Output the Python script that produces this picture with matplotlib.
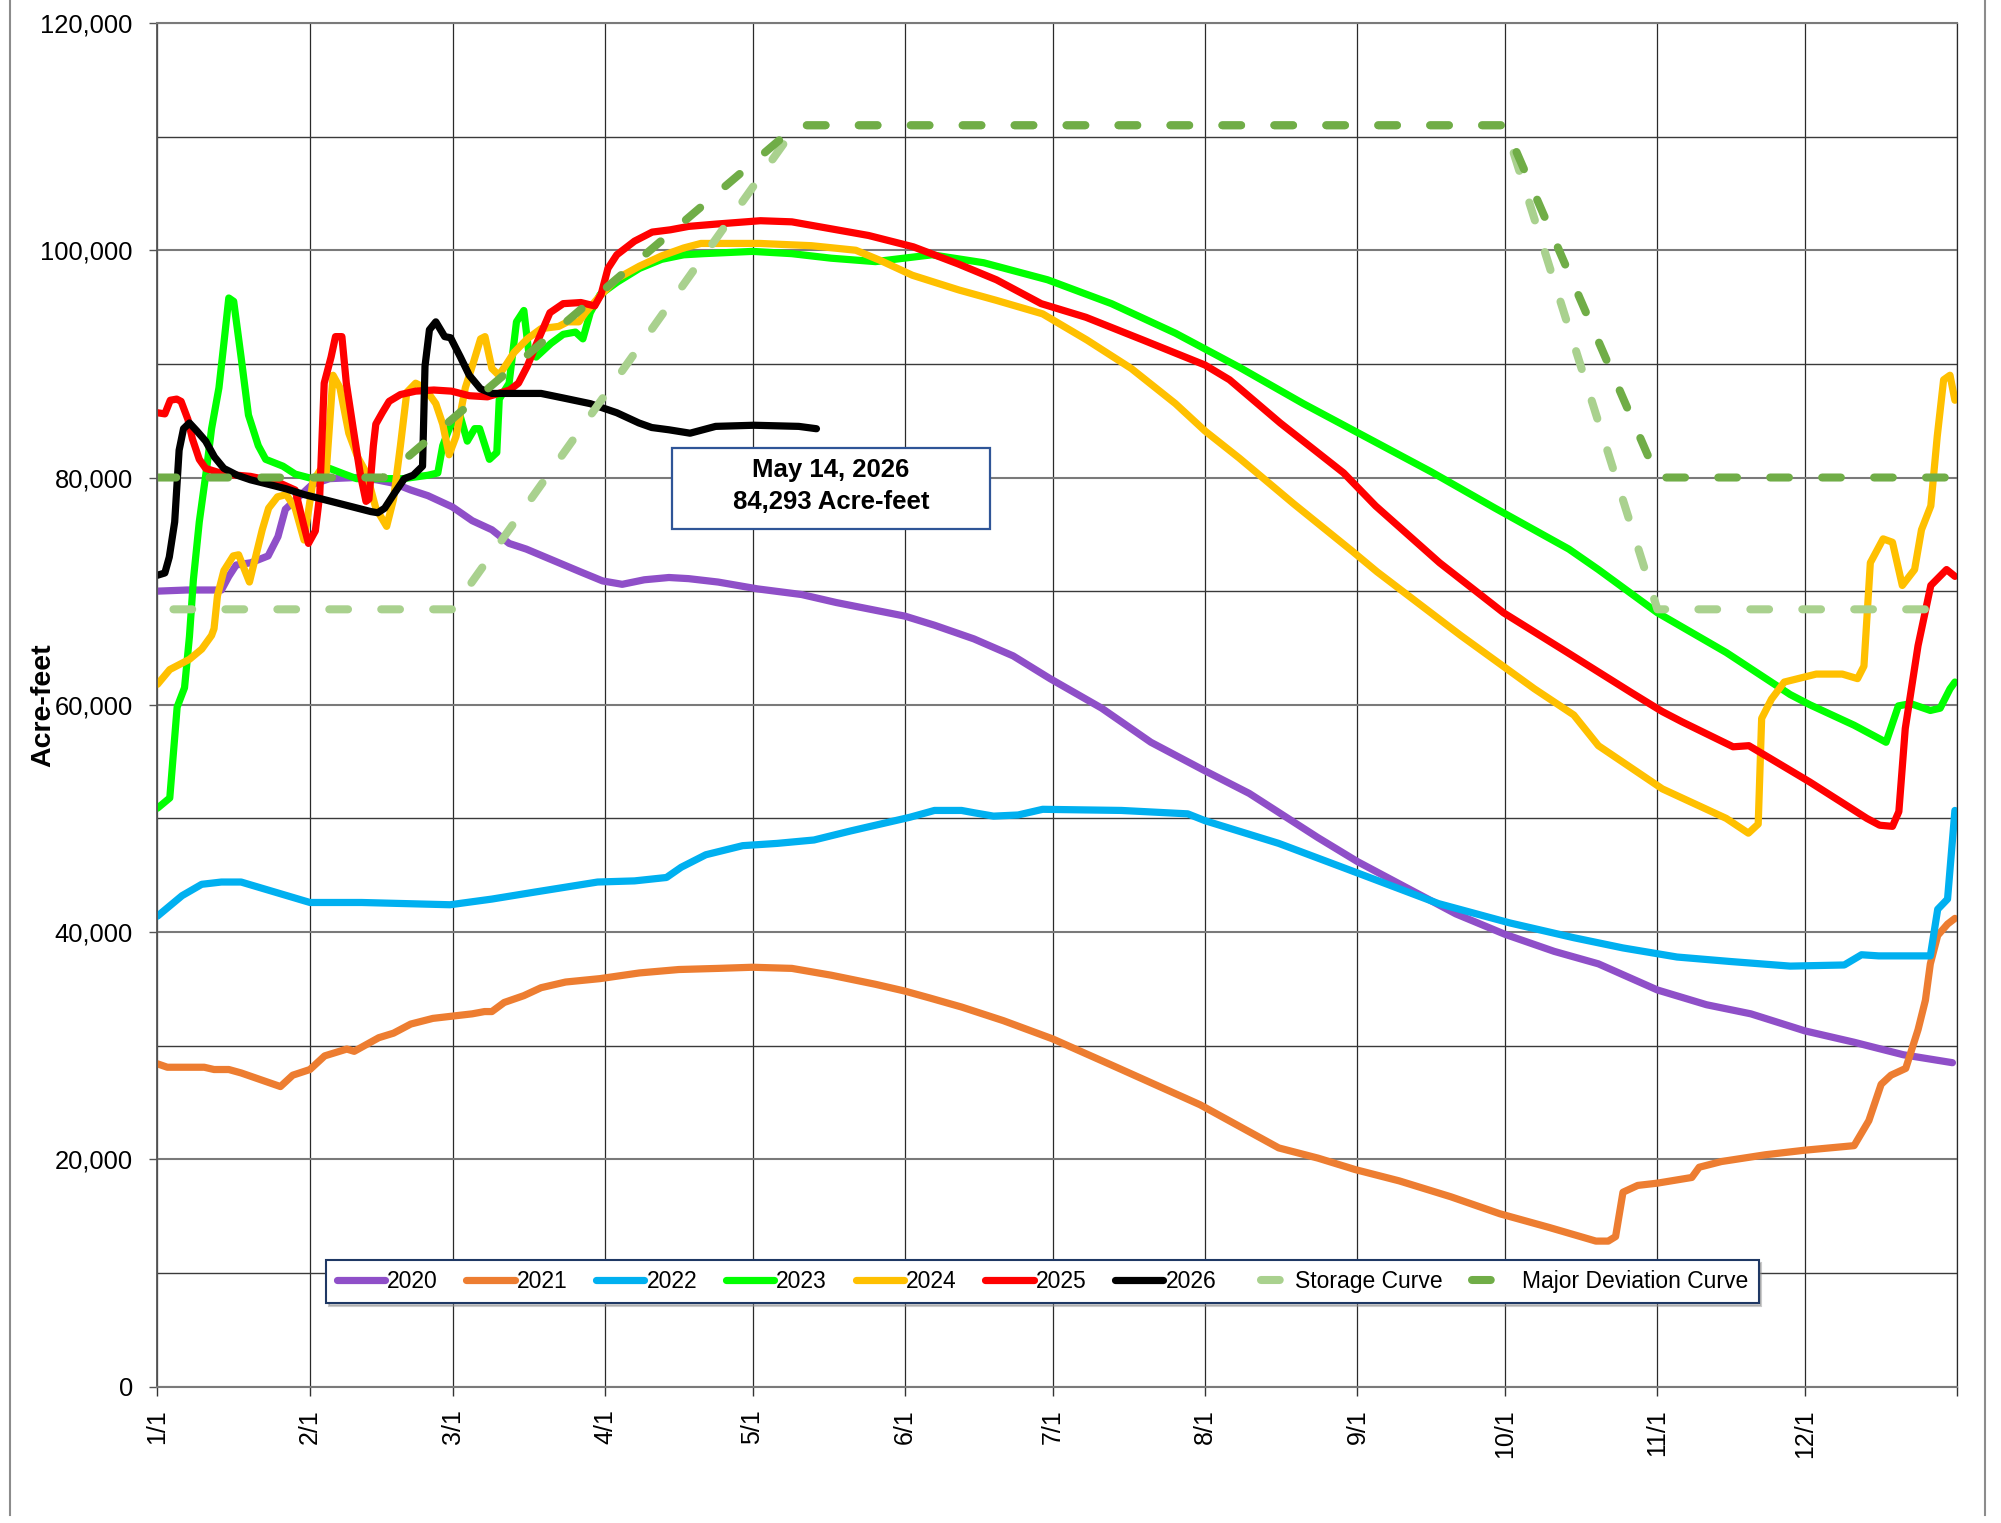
import matplotlib
matplotlib.use("Agg")
import matplotlib.pyplot as plt
from matplotlib.lines import Line2D
from matplotlib.patches import Rectangle
from matplotlib.ticker import MultipleLocator, FuncFormatter

plt.rcParams['font.family'] = ['Liberation Sans', 'DejaVu Sans']
plt.rcParams['lines.scale_dashes'] = False

# day of year (leap year axis, 1/1 = 0) and storage in acre-feet
days_2020 = [0, 6, 13, 14.5, 16, 19, 22.5, 24.5, 26, 29, 31.5, 35, 40.5, 44.5, 48, 51.5, 55, 60, 64, 68,
             71.5, 75, 80.5, 86, 90.5, 94.5, 99, 104, 108, 114, 122, 131, 138, 145, 152, 158, 166, 174,
             181.5, 192, 202, 212.5, 222, 236, 244, 254, 264, 274, 284, 293, 305, 315, 324, 335, 345, 355, 365]
vals_2020 = [70000, 70100, 70100, 71300, 72300, 72500, 73100, 74800, 77200, 78400, 79400, 79900, 80000, 79800,
             79500, 78900, 78400, 77400, 76200, 75400, 74200, 73700, 72700, 71700, 70900, 70600, 71000, 71200,
             71100, 70800, 70200, 69700, 69000, 68400, 67800, 67000, 65800, 64300, 62300, 59700, 56700, 54300,
             52200, 48300, 46200, 43900, 41600, 39800, 38300, 37200, 34900, 33600, 32800, 31300, 30300, 29200,
             28500]

days_2021 = [0, 2, 9.5, 11.5, 14.5, 17, 21, 25, 27.5, 31, 34, 38.5, 40, 45, 48, 51.5, 56, 60, 64, 66.5,
             68, 70.5, 74.5, 78, 83, 90, 98, 106, 114, 121, 129, 137, 146, 152, 157, 163.5, 172, 182, 195,
             212, 228, 236, 243.5, 252.5, 263, 273, 283, 292.5, 295, 296.5, 298, 301, 305, 312, 313.5, 318,
             327, 335, 345, 348, 350.5, 352.5, 355.5, 358, 359.5, 360.5, 362, 364, 365.5]
vals_2021 = [28400, 28100, 28100, 27900, 27900, 27600, 27000, 26400, 27400, 27900, 29100, 29700, 29500, 30700,
             31100, 31900, 32400, 32600, 32800, 33000, 33000, 33800, 34400, 35100, 35600, 35900, 36400, 36700,
             36800, 36900, 36800, 36200, 35400, 34800, 34200, 33400, 32200, 30600, 28100, 24800, 21000, 20100,
             19100, 18100, 16700, 15200, 14000, 12800, 12800, 13200, 17100, 17700, 17900, 18400, 19300, 19800,
             20400, 20800, 21200, 23400, 26600, 27400, 28000, 31400, 34000, 37200, 39700, 40700, 41200]

days_2022 = [0, 5, 9, 13, 17, 31, 41.5, 59.5, 68, 76.5, 89.5, 97, 103.5, 106.5, 111.5, 119, 126, 133.5,
             141, 153, 158, 163.5, 166, 170, 175, 180, 196, 209.5, 213, 228, 244, 260.5, 275, 288, 298, 309,
             320, 332, 343, 346.5, 350, 358, 360.5, 362, 364, 365.5]
vals_2022 = [41400, 43200, 44200, 44400, 44400, 42600, 42600, 42400, 42900, 43500, 44400, 44500, 44800, 45700,
             46800, 47600, 47800, 48100, 48900, 50100, 50700, 50700, 50500, 50200, 50300, 50800, 50700, 50400,
             49800, 47800, 45200, 42500, 40800, 39500, 38600, 37800, 37400, 37000, 37100, 38000, 37900, 37900,
             37900, 42000, 42900, 50700]

days_2023 = [0, 2.5, 4, 5.5, 6.5, 7.3, 8.5, 10, 11, 12.5, 13.5, 14.5, 15.5, 17, 18.5, 20.5, 22, 25.5, 28,
             31.5, 35, 38, 40.5, 50, 55, 57, 58, 59.5, 61.5, 63, 64.5, 65.5, 67.5, 69, 69.5, 71.5, 73, 74.5,
             75.5, 77, 80, 82.5, 85, 86.5, 88, 90, 93.5, 98, 102.5, 107, 111, 121, 129, 137, 146, 157.5, 168,
             181, 194, 207, 220, 233, 246, 259, 272, 287, 293, 305, 319, 332, 336, 345, 351.5, 354, 356.5,
             360.5, 362.5, 364.5, 365.5]
vals_2023 = [50900, 51800, 59800, 61500, 66000, 71000, 76100, 80800, 84300, 87900, 91800, 95800, 95500, 90600,
             85500, 82800, 81600, 81000, 80300, 79900, 80800, 80300, 79900, 79900, 80200, 80400, 82800, 84500,
             85500, 83200, 84300, 84300, 81600, 82200, 86900, 88300, 93700, 94700, 91000, 90600, 91800, 92600,
             92800, 92200, 94500, 96100, 97200, 98400, 99200, 99600, 99700, 99900, 99700, 99300, 99000, 99600,
             98900, 97400, 95300, 92700, 89700, 86500, 83500, 80500, 77300, 73700, 71900, 68100, 64600, 60900,
             60000, 58200, 56700, 59900, 60100, 59500, 59700, 61400, 62000]

days_2024 = [0, 2.5, 6.5, 9, 11, 11.5, 12.2, 13.5, 15.4, 16.5, 18.7, 21.3, 22.6, 24.4, 26.2, 28, 29.8, 31.6,
             33, 34.3, 35.7, 37.1, 38.9, 40.7, 42.5, 44.4, 46.6, 48, 49.4, 50.7, 52.5, 54.3, 56.6, 58, 59.3,
             60.7, 62.6, 64.3, 65.7, 66.6, 68, 69.4, 70.7, 72.5, 75.2, 78, 81.6, 83.4, 85.7, 87, 89.8, 93.4,
             98, 102.5, 107, 110.5, 122.5, 133, 142, 147, 153.5, 163, 170.5, 180, 189, 198, 207, 213, 220,
             231, 243, 248, 265, 280, 288, 293, 306, 319, 323.5, 325.5, 326.2, 328.2, 330.8, 337.3, 342.6,
             345.7, 347, 348.3, 350.9, 352.8, 354.8, 357.3, 358.7, 360.6, 361.9, 363.2, 364.5, 365.5]
vals_2024 = [61800, 63100, 64000, 64900, 66100, 66700, 69600, 71800, 73100, 73200, 70800, 75400, 77300, 78300,
             78500, 77300, 74500, 79600, 80600, 80400, 89000, 87900, 83900, 81800, 80400, 77300, 75700, 78100,
             82800, 87500, 88300, 87900, 86500, 84700, 82000, 83600, 87900, 90200, 92200, 92400, 89600, 89000,
             89800, 91000, 92200, 93100, 93300, 93700, 93700, 94500, 95900, 97500, 98600, 99500, 100200,
             100600, 100600, 100400, 100000, 99100, 97800, 96500, 95600, 94400, 92100, 89600, 86500, 84100,
             81700, 77700, 73500, 71700, 66100, 61400, 59100, 56400, 52600, 50000, 48700, 49500, 58800, 60500,
             62000, 62700, 62700, 62300, 63400, 72500, 74600, 74300, 70500, 71900, 75400, 77500, 83600, 88600,
             89000, 86800]

days_2025 = [0, 1.5, 2.6, 3.9, 4.8, 6.2, 7.1, 8.5, 9.8, 13.5, 18.9, 24.4, 28, 29.8, 30.7, 32.1, 33, 33.9,
             35.3, 36.2, 37.5, 38.4, 39.8, 41.2, 42.4, 43, 43.9, 44.4, 45.7, 47.1, 49.4, 52.5, 56.2, 59.8,
             63.4, 67.1, 71.6, 73.4, 75.2, 77.1, 79.8, 82.5, 86.1, 88.9, 90.2, 91.6, 93.4, 97, 100.6, 104.3,
             108, 113.5, 122.6, 129, 136.8, 144.6, 153.7, 162.8, 170.6, 179.7, 188.8, 200.4, 213, 218, 228.3,
             241.2, 247.7, 260.7, 273.7, 286.7, 299.6, 306, 310, 320.4, 323.6, 336, 347.6, 350.2, 352.8,
             354.1, 355.4, 358, 360.6, 363.8, 365.5]
vals_2025 = [85700, 85600, 86800, 86900, 86700, 85100, 83400, 81600, 80800, 80300, 80100, 79600, 78900, 75700,
             74200, 75300, 78500, 88300, 90600, 92400, 92400, 88300, 84300, 80400, 77900, 78100, 82800, 84700,
             85700, 86700, 87300, 87600, 87700, 87600, 87200, 87100, 87700, 88300, 89800, 91800, 94500, 95300,
             95400, 95100, 96100, 98400, 99600, 100800, 101600, 101800, 102100, 102300, 102600, 102500,
             101900, 101300, 100300, 98800, 97400, 95300, 94100, 92100, 89900, 88600, 84800, 80400, 77500,
             72500, 68100, 64600, 61100, 59400, 58500, 56300, 56400, 53200, 50000, 49400, 49300, 50600, 57900,
             65200, 70500, 71900, 71300]

days_2026 = [0, 1.5, 2.4, 3.5, 4.4, 5.3, 6.5, 8, 9.8, 11.6, 13.5, 16.2, 18.9, 22.6, 26.2, 29.8, 33.5, 37.1,
             40.7, 43.4, 44.8, 46.2, 48, 50.2, 52, 53.9, 54.4, 55.3, 56.6, 58.4, 59.6, 61.6, 63.4, 65.7, 68,
             78, 82.5, 88, 93.4, 97.9, 100.5, 104, 108.3, 113.5, 121.3, 130.4, 134]
vals_2026 = [71400, 71600, 73000, 76100, 82400, 84300, 84800, 84100, 83200, 81800, 80800, 80200, 79800, 79400,
             79000, 78500, 78100, 77700, 77300, 77000, 76900, 77300, 78500, 79900, 80200, 81000, 89800, 93000,
             93700, 92400, 92300, 90600, 89000, 87800, 87400, 87400, 87000, 86500, 85700, 84800, 84400, 84200,
             83900, 84500, 84600, 84500, 84293]

storage_days = [0, 60, 130, 274, 305, 365]
storage_vals = [68400, 68400, 111000, 111000, 68400, 68400]
major_days = [0, 46, 130, 274, 305, 365]
major_vals = [80000, 80000, 111000, 111000, 80000, 80000]

month_days = [0, 31, 60, 91, 121, 152, 182, 213, 244, 274, 305, 335, 366]
month_labels = ['1/1', '2/1', '3/1', '4/1', '5/1', '6/1', '7/1', '8/1', '9/1', '10/1', '11/1', '12/1', '']

series = [
    ('2020', days_2020, vals_2020, '#8F4FC8'),
    ('2021', days_2021, vals_2021, '#ED7D31'),
    ('2022', days_2022, vals_2022, '#00B0F0'),
    ('2023', days_2023, vals_2023, '#00FF00'),
    ('2024', days_2024, vals_2024, '#FFC000'),
    ('2025', days_2025, vals_2025, '#FF0000'),
    ('2026', days_2026, vals_2026, '#000000'),
]

fig = plt.figure(figsize=(20.01, 15.23), dpi=100)
ax = fig.add_axes([0.0787, 0.0896, 0.8995, 0.8953])

for name, d, v, c in series:
    ax.plot(d, v, color=c, lw=5.2, label=name, solid_joinstyle='round', solid_capstyle='round')

# dash offset on the storage curve so its top stretch lines up under the deviation curve
ax.plot(storage_days, storage_vals, color='#A9D18E', lw=5.8, linestyle=(25.9, (13.5, 23.9)),
        dash_capstyle='round', label='Storage Curve')
ax.plot(major_days, major_vals, color='#70AD47', lw=5.8, linestyle=(0, (13.5, 23.9)),
        dash_capstyle='round', label='Major Deviation Curve')

ax.set_xlim(0, 366)
ax.set_ylim(0, 120000)
ax.set_xticks(month_days)
ax.set_xticklabels(month_labels, rotation=90, fontsize=18)
ax.yaxis.set_major_locator(MultipleLocator(20000))
ax.yaxis.set_minor_locator(MultipleLocator(10000))
ax.yaxis.set_major_formatter(FuncFormatter(lambda v, p: f'{int(v):,}'))
ax.tick_params(axis='y', which='major', labelsize=18.4, length=5.8, width=1, color='#555555', pad=12)
ax.tick_params(axis='y', which='minor', length=0)
ax.tick_params(axis='x', length=6.5, width=1, color='#333333', pad=10)

ax.grid(True, axis='y', which='major', color='#7A7A7A', lw=1.5)
ax.grid(True, axis='y', which='minor', color='#3A3A3A', lw=1.0)
ax.grid(True, axis='x', which='major', color='#2A2A2A', lw=0.9)
ax.set_axisbelow(True)

ax.spines['left'].set_color('#555555')
ax.spines['left'].set_linewidth(1.3)
ax.spines['bottom'].set_color('#7A7A7A')
ax.spines['bottom'].set_linewidth(1.5)
ax.spines['top'].set_color('#7A7A7A')
ax.spines['top'].set_linewidth(1.5)
ax.spines['right'].set_color('#2A2A2A')
ax.spines['right'].set_linewidth(0.9)

ax.set_ylabel('Acre-feet', fontsize=20.5, fontweight='bold')
ax.yaxis.set_label_coords(-0.0561, 0.5)

leg = ax.legend(loc='center', bbox_to_anchor=(0.4917, 0.077), ncol=9, fontsize=16.5,
                handlelength=2.1, handletextpad=0.1, columnspacing=1.25, borderpad=0.45,
                fancybox=False, shadow={'color': '0.55', 'alpha': 0.45}, framealpha=1)
leg.get_frame().set_edgecolor('#1F3864')
leg.get_frame().set_linewidth(1.5)

# note box for the latest reading
ax.add_patch(Rectangle((0.2859, 0.6289), 0.1767, 0.0594, transform=ax.transAxes,
                       facecolor='white', edgecolor='#2F5597', lw=1.6, zorder=5))
ax.text(0.3742, 0.6722, 'May 14, 2026', transform=ax.transAxes, ha='center', va='center',
        fontsize=18.5, fontweight='bold', zorder=6)
ax.text(0.3742, 0.6489, f'{vals_2026[-1]:,} Acre-feet', transform=ax.transAxes, ha='center',
        va='center', fontsize=18.5, fontweight='bold', zorder=6)

# chart area border
fig.add_artist(Line2D([10 / 2001, 10 / 2001], [0.005, 1.0], transform=fig.transFigure,
                      color='#8C8C8C', lw=1.5))
fig.add_artist(Line2D([1985 / 2001, 1985 / 2001], [0.005, 1.0], transform=fig.transFigure,
                      color='#8C8C8C', lw=1.5))

fig.savefig('out.png', dpi=100)
